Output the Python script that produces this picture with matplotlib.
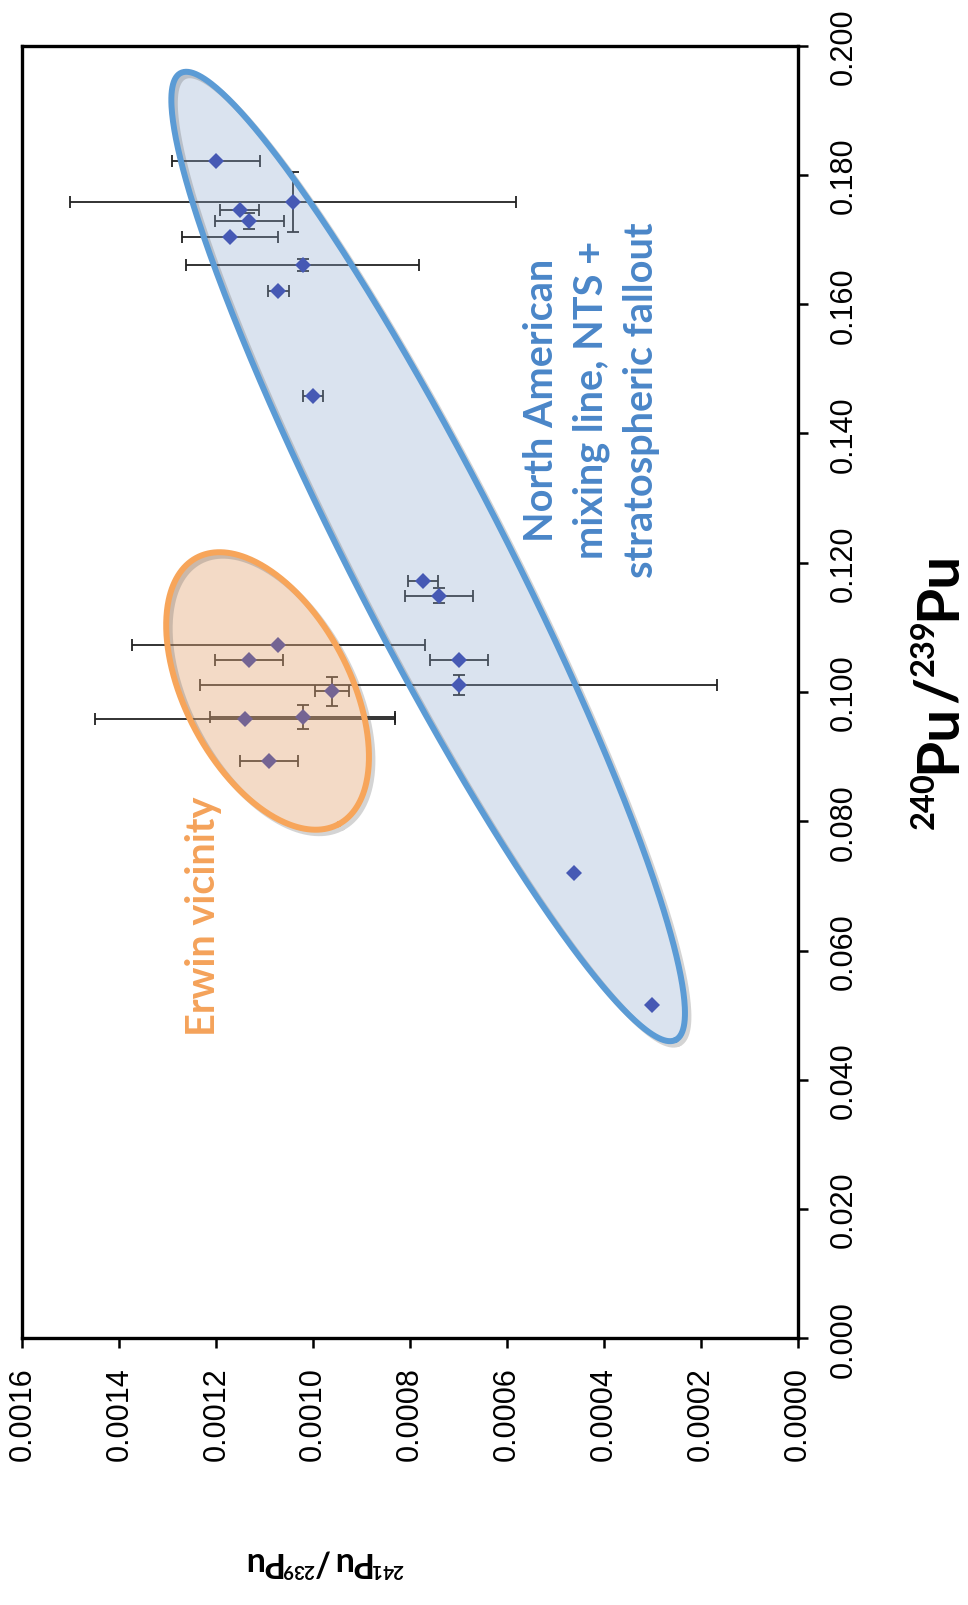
import numpy as np
import matplotlib
matplotlib.use('Agg')
import matplotlib.pyplot as plt
import matplotlib.patheffects as pe
from matplotlib.transforms import IdentityTransform

# ---------------- data ----------------
# North American mixing line samples (NTS + stratospheric fallout)
na_pu240_239 = [0.1822, 0.1758, 0.1746, 0.1729, 0.1704, 0.1661, 0.1621,
                0.1458, 0.1171, 0.1149, 0.1050, 0.1011, 0.0720, 0.0516]
na_pu241_239 = [0.001201, 0.001041, 0.001152, 0.001132, 0.001172, 0.001022, 0.001072,
                0.001001, 0.000773, 0.000741, 0.000700, 0.000700, 0.000461, 0.000301]
na_err241 = [0.000091, 0.000460, 0.000041, 0.000071, 0.000099, 0.000240, 0.000021,
             0.000021, 0.000031, 0.000070, 0.000060, 0.000533, 0.0, 0.0]
na_err240 = [0.0, 0.0046, 0.0, 0.0012, 0.0, 0.0009, 0.0,
             0.0, 0.0, 0.0012, 0.0, 0.0015, 0.0, 0.0]

# Erwin vicinity samples
er_pu240_239 = [0.1073, 0.1050, 0.1001, 0.0959, 0.0961, 0.0894]
er_pu241_239 = [0.001072, 0.001132, 0.000962, 0.001141, 0.001022, 0.001091]
er_err241 = [0.000303, 0.000070, 0.000035, 0.000310, 0.000191, 0.000060]
er_err240 = [0.0, 0.0, 0.0022, 0.0, 0.0019, 0.0]

ticks241 = [0.0000, 0.0002, 0.0004, 0.0006, 0.0008, 0.0010, 0.0012, 0.0014, 0.0016]
ticks240 = [0.000, 0.020, 0.040, 0.060, 0.080, 0.100, 0.120, 0.140, 0.160, 0.180, 0.200]

# annotation ellipses (centre and two conjugate half-axis vectors, data units: (241/239, 240/239))
na_ell_c = (0.0007628, 0.12097)
na_ell_a = (-0.0005108, -0.07480)
na_ell_b = (-0.0001414, 0.005431)
er_ell_c = (0.0010942, 0.10016)
er_ell_a = (-0.0001464, -0.020626)
er_ell_b = (-0.0001495, 0.005957)

# axis titles as (text, is_superscript) pieces
xlabel_pieces = [('240', True), ('Pu', False), ('/', False), ('239', True), ('Pu', False)]
ylabel_pieces = [('241', True), ('Pu', False), ('/', False), ('239', True), ('Pu', False)]

# ---------------- figure ----------------
fig = plt.figure(figsize=(9.68, 16.06), dpi=100)
ax = fig.add_axes([0.02324, 0.16606, 0.80088, 0.80486])

pt_color = '#2434A8'
err_color = '#222222'


def draw_series(xv, yv, xe, ye):
    xv = np.asarray(xv); yv = np.asarray(yv)
    xe = np.asarray(xe); ye = np.asarray(ye)
    mx = xe > 0
    ax.errorbar(xv[mx], yv[mx], xerr=xe[mx], fmt='none', ecolor=err_color,
                elinewidth=1.3, capsize=4.5, capthick=1.3, zorder=2)
    my = ye > 0
    ax.errorbar(xv[my], yv[my], yerr=ye[my], fmt='none', ecolor=err_color,
                elinewidth=1.3, capsize=4.5, capthick=1.3, zorder=2)
    ax.plot(xv, yv, linestyle='none', marker='D', markersize=8,
            color=pt_color, markeredgewidth=0, zorder=3)


draw_series(na_pu241_239, na_pu240_239, na_err241, na_err240)
draw_series(er_pu241_239, er_pu240_239, er_err241, er_err240)

t = np.linspace(0, 2 * np.pi, 500)


def draw_ellipse(c, a, b, edge, face, alpha):
    x = c[0] + a[0] * np.cos(t) + b[0] * np.sin(t)
    y = c[1] + a[1] * np.cos(t) + b[1] * np.sin(t)
    ax.fill(x, y, color=face, alpha=alpha, lw=0, zorder=4)
    ax.plot(x, y, color=edge, lw=4.3, zorder=5, solid_capstyle='round',
            path_effects=[pe.SimpleLineShadow(offset=(2.5, -2.5), shadow_color='#555555', alpha=0.25),
                          pe.Normal()])


draw_ellipse(na_ell_c, na_ell_a, na_ell_b, '#5B9BD5', '#8EA9CF', 0.32)
draw_ellipse(er_ell_c, er_ell_a, er_ell_b, '#F7A55A', '#E3A878', 0.42)

ax.set_xlim(0.0016, 0.0)
ax.set_ylim(0.0, 0.2)

ax.set_xticks(ticks241)
ax.set_xticklabels(['%.4f' % v for v in ticks241])
ax.set_yticks(ticks240)
ax.set_yticklabels(['%.3f' % v for v in ticks240])
ax.yaxis.tick_right()

for s in ax.spines.values():
    s.set_linewidth(2.4)
    s.set_color('black')

ax.tick_params(axis='x', which='both', direction='out', length=7, width=1.8,
               pad=13, labelsize=22, labelrotation=90)
ax.tick_params(axis='y', which='both', direction='out', length=7, width=1.8,
               pad=15, labelsize=22, labelrotation=90, left=False, right=True)
for lab in ax.get_xticklabels():
    lab.set_fontfamily('Liberation Sans')
    lab.set_va('top')
    lab.set_ha('center')
for lab in ax.get_yticklabels():
    lab.set_fontfamily('Liberation Sans')
    lab.set_va('center')
    lab.set_ha('left')

# annotations
ax.text(0.0004263, 0.14534, 'North American\nmixing line, NTS +\nstratospheric fallout',
        rotation=90, ha='center', va='center', multialignment='center',
        fontsize=28.5, fontfamily='Lato', fontweight='bold', color='#4A86C8',
        linespacing=1.42, zorder=6)
ax.text(0.0012274, 0.0655, 'Erwin vicinity', rotation=90, ha='center', va='center',
        fontsize=28.5, fontfamily='Lato', fontweight='bold', color='#F4A25A', zorder=6)

# axis titles built from pieces (small superscript mass numbers)
renderer = fig.canvas.get_renderer()


def place_label(pieces, cx, cy, size, rot_deg):
    sup = 0.56 * size
    widths = []
    for txt, is_sup in pieces:
        tt = fig.text(0, 0, txt, fontsize=sup if is_sup else size,
                      fontfamily='Lato', fontweight='bold')
        widths.append(tt.get_window_extent(renderer).width)
        tt.remove()
    total = sum(widths)
    r = np.deg2rad(rot_deg)
    d = np.array([np.cos(r), np.sin(r)])
    u = np.array([-np.sin(r), np.cos(r)])
    size_px = size * fig.dpi / 72.0
    cap = 0.72 * size_px
    start = np.array([cx, cy]) - d * total / 2 - u * cap / 2
    acc = 0.0
    for (txt, is_sup), w in zip(pieces, widths):
        p = start + d * acc + (u * 0.36 * size_px if is_sup else 0)
        fig.text(p[0], p[1], txt, transform=IdentityTransform(),
                 fontsize=sup if is_sup else size, fontfamily='Lato', fontweight='bold',
                 rotation=rot_deg, rotation_mode='anchor', ha='left', va='baseline')
        acc += w


H = 1606
place_label(xlabel_pieces, 934, H - 690, 42, 90)
place_label(ylabel_pieces, 322, H - 1564, 24.5, 180)

fig.savefig('out.png', dpi=100, facecolor='white')
